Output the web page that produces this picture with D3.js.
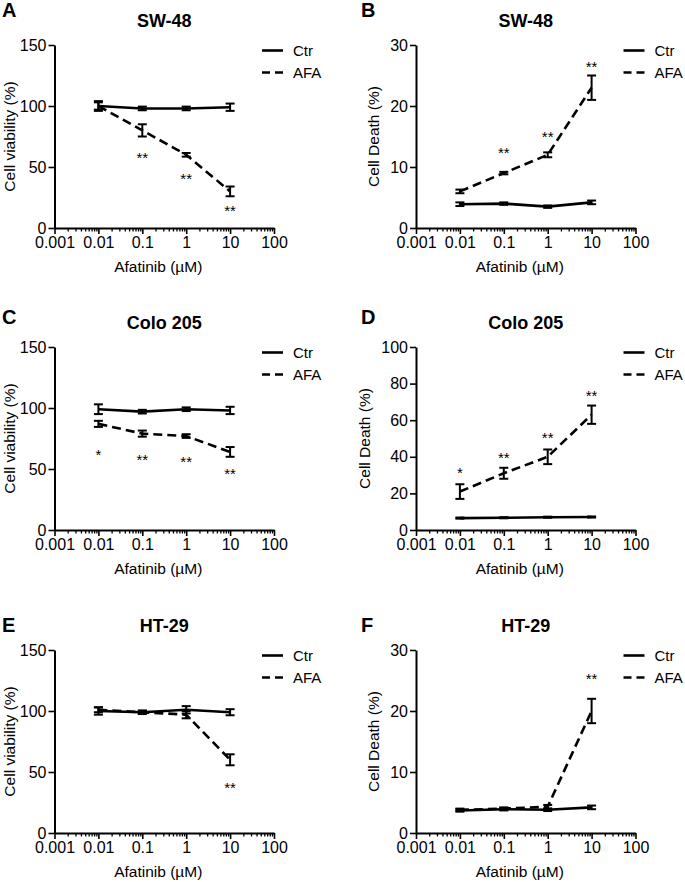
<!DOCTYPE html>
<html>
<head>
<meta charset="utf-8">
<script src="https://cdn.jsdelivr.net/npm/d3@7/dist/d3.min.js"></script>
<style>
  html, body { margin: 0; padding: 0; background: #fff; }
  svg { display: block; }
  text { font-family: "Liberation Sans", Arial, Helvetica, sans-serif; fill: #000; }
</style>
</head>
<body>
<svg id="chart" width="685" height="882"></svg>
<script>
// ---------- data ----------
const doses = [0.01, 0.1, 1, 10];
const xTickValues = [0.001, 0.01, 0.1, 1, 10, 100];
const xTickLabels = ["0.001", "0.01", "0.1", "1", "10", "100"];
const seriesNames = ["Ctr", "AFA"];
const xAxisTitle = "Afatinib (\u00b5M)";

const panelLetters = ["A", "B", "C", "D", "E", "F"];
const panelTitles = ["SW-48", "SW-48", "Colo 205", "Colo 205", "HT-29", "HT-29"];
const yAxisTitles = ["Cell viability (%)", "Cell Death (%)", "Cell viability (%)", "Cell Death (%)", "Cell viability (%)", "Cell Death (%)"];

const yTicksViability = [0, 50, 100, 150];
const yTicksDeath30 = [0, 10, 20, 30];
const yTicksDeath100 = [0, 20, 40, 60, 80, 100];

// A: SW-48 viability
const ctrA = [100, 98, 98, 99];      const ctrAErr = [4, 1.5, 1.5, 3];
const afaA = [100, 80, 60, 30];      const afaAErr = [3, 5, 1.5, 4];
const starsA = ["", "**", "**", "**"]; const starValA = [null, 60, 43, 17];
// B: SW-48 death
const ctrB = [3.9, 4.0, 3.5, 4.2];   const ctrBErr = [0.3, 0.2, 0.2, 0.3];
const afaB = [6.0, 9.0, 12.0, 23.0]; const afaBErr = [0.3, 0.2, 0.4, 2.0];
const starsB = ["", "**", "**", "**"]; const starValB = [null, 12.9, 15.5, 27];
// C: Colo 205 viability
const ctrC = [99, 97, 99, 98];       const ctrCErr = [4, 1.5, 1.5, 3];
const afaC = [87, 79, 77, 64];       const afaCErr = [2.5, 2.5, 1.5, 4];
const starsC = ["*", "**", "**", "**"]; const starValC = [64.5, 60, 59, 49];
// D: Colo 205 death
const ctrD = [6.5, 6.7, 7.0, 7.1];   const ctrDErr = [0.3, 0.3, 0.3, 0.3];
const afaD = [21, 31, 40, 63];       const afaDErr = [4, 3, 4, 5];
const starsD = ["*", "**", "**", "**"]; const starValD = [33.3, 41.2, 52.2, 75.4];
// E: HT-29 viability
const ctrE = [100, 99, 101, 99];     const ctrEErr = [3, 1.5, 3, 2.5];
const afaE = [101, 99, 97, 60];      const afaEErr = [2, 1, 3, 4.5];
const starsE = ["", "", "", "**"];   const starValE = [null, null, null, 39.6];
// F: HT-29 death
const ctrF = [3.7, 3.9, 3.8, 4.2];   const ctrFErr = [0.2, 0.2, 0.2, 0.3];
const afaF = [3.8, 4.0, 4.3, 20.0];  const afaFErr = [0.2, 0.2, 0.3, 2.0];
const starsF = ["", "", "", "**"];   const starValF = [null, null, null, 25.9];

// ---------- layout ----------
const colLeft = [54.5, 416];
const rowTop = [45, 347, 650];
const plotW = 219.5, plotH = 183;
const letterX = [2, 361];
const letterBaseline = [17, 324, 632];

const panels = [
  {ctr: ctrA, ctrErr: ctrAErr, afa: afaA, afaErr: afaAErr, stars: starsA, starVal: starValA, yMax: 150, yTicks: yTicksViability},
  {ctr: ctrB, ctrErr: ctrBErr, afa: afaB, afaErr: afaBErr, stars: starsB, starVal: starValB, yMax: 30, yTicks: yTicksDeath30},
  {ctr: ctrC, ctrErr: ctrCErr, afa: afaC, afaErr: afaCErr, stars: starsC, starVal: starValC, yMax: 150, yTicks: yTicksViability},
  {ctr: ctrD, ctrErr: ctrDErr, afa: afaD, afaErr: afaDErr, stars: starsD, starVal: starValD, yMax: 100, yTicks: yTicksDeath100},
  {ctr: ctrE, ctrErr: ctrEErr, afa: afaE, afaErr: afaEErr, stars: starsE, starVal: starValE, yMax: 150, yTicks: yTicksViability},
  {ctr: ctrF, ctrErr: ctrFErr, afa: afaF, afaErr: afaFErr, stars: starsF, starVal: starValF, yMax: 30, yTicks: yTicksDeath30}
];

const svg = d3.select("#chart");

// minor ticks for log axis
const minorTicks = [];
for (let e = -3; e < 2; e++) {
  for (let m = 2; m <= 9; m++) minorTicks.push(m * Math.pow(10, e));
}

panels.forEach((p, i) => {
  const col = i % 2, row = Math.floor(i / 2);
  const left = colLeft[col], top = rowTop[row];
  const x = d3.scaleLog().domain([0.001, 100]).range([left, left + plotW]);
  const y = d3.scaleLinear().domain([0, p.yMax]).range([top + plotH, top]);
  const g = svg.append("g");

  // panel letter
  g.append("text").attr("x", letterX[col]).attr("y", letterBaseline[row])
    .attr("font-size", 20).attr("font-weight", "bold").text(panelLetters[i]);
  // title
  g.append("text").attr("x", left + plotW / 2).attr("y", top - 18)
    .attr("text-anchor", "middle").attr("font-size", 18).attr("font-weight", "bold")
    .text(panelTitles[i]);

  // y axis
  const yAxisG = g.append("g").attr("transform", `translate(${left},0)`)
    .call(d3.axisLeft(y).tickValues(p.yTicks).tickSize(6).tickSizeOuter(0).tickPadding(2).tickFormat(d3.format("d")));
  yAxisG.attr("font-family", null);
  yAxisG.selectAll("text").attr("font-size", 16).attr("fill", "#000");
  yAxisG.select(".domain").attr("stroke", "#000").attr("stroke-width", 2);
  yAxisG.selectAll(".tick line").attr("stroke", "#000").attr("stroke-width", 1.6);

  // x axis (major)
  const xAxisG = g.append("g").attr("transform", `translate(0,${top + plotH})`)
    .call(d3.axisBottom(x).tickValues(xTickValues).tickSize(6).tickSizeOuter(0).tickPadding(3)
      .tickFormat((d, k) => xTickLabels[k]));
  xAxisG.attr("font-family", null);
  xAxisG.selectAll("text").attr("font-size", 16).attr("fill", "#000");
  xAxisG.select(".domain").attr("stroke", "#000").attr("stroke-width", 2);
  xAxisG.selectAll(".tick line").attr("stroke", "#000").attr("stroke-width", 1.6);
  // x axis (minor)
  const xMinorG = g.append("g").attr("transform", `translate(0,${top + plotH})`)
    .call(d3.axisBottom(x).tickValues(minorTicks).tickSize(3.5).tickFormat(""));
  xMinorG.select(".domain").remove();
  xMinorG.selectAll(".tick line").attr("stroke", "#000").attr("stroke-width", 1.3);

  // axis titles
  const bb = yAxisG.node().getBBox();
  const yTitleX = Math.max(14.5, left + bb.x - 11.5);
  g.append("text")
    .attr("transform", `translate(${yTitleX},${top + plotH / 2}) rotate(-90)`)
    .attr("text-anchor", "middle").attr("font-size", 15.5).text(yAxisTitles[i]);
  g.append("text").attr("x", left + plotW / 2 - 6).attr("y", top + plotH + 44)
    .attr("text-anchor", "middle").attr("font-size", 15.5).text(xAxisTitle);

  // series
  const series = [
    {name: seriesNames[0], vals: p.ctr, errs: p.ctrErr, dash: null},
    {name: seriesNames[1], vals: p.afa, errs: p.afaErr, dash: "9,5"}
  ];
  const line = d3.line().x(d => x(d.dose)).y(d => y(d.v));
  series.forEach(s => {
    const pts = doses.map((d, k) => ({dose: d, v: s.vals[k], e: s.errs[k]}));
    g.append("path").datum(pts).attr("d", line).attr("fill", "none")
      .attr("stroke", "#000").attr("stroke-width", 2.6)
      .attr("stroke-dasharray", s.dash);
    const eb = g.append("g").attr("stroke", "#000").attr("stroke-width", 2);
    pts.forEach(pt => {
      const cx = x(pt.dose), y1 = y(pt.v - pt.e), y2 = y(pt.v + pt.e);
      eb.append("line").attr("x1", cx).attr("x2", cx).attr("y1", y1).attr("y2", y2);
      eb.append("line").attr("x1", cx - 4.5).attr("x2", cx + 4.5).attr("y1", y1).attr("y2", y1);
      eb.append("line").attr("x1", cx - 4.5).attr("x2", cx + 4.5).attr("y1", y2).attr("y2", y2);
    });
  });

  // significance stars
  doses.forEach((d, k) => {
    if (!p.stars[k]) return;
    g.append("text").attr("x", x(d)).attr("y", y(p.starVal[k]) + 0.575 * 15)
      .attr("text-anchor", "middle").attr("font-size", 15).text(p.stars[k]);
  });

  // legend
  const right = left + plotW;
  const legY = [top + 5.5, top + 27.5];
  series.forEach((s, k) => {
    g.append("line").attr("x1", right - 12).attr("x2", right + 9)
      .attr("y1", legY[k]).attr("y2", legY[k])
      .attr("stroke", "#000").attr("stroke-width", 2.6)
      .attr("stroke-dasharray", k === 1 ? "8,5" : null);
    g.append("text").attr("x", right + 19).attr("y", legY[k]).attr("dy", "0.35em")
      .attr("font-size", 15).text(s.name);
  });
});
</script>
</body>
</html>
